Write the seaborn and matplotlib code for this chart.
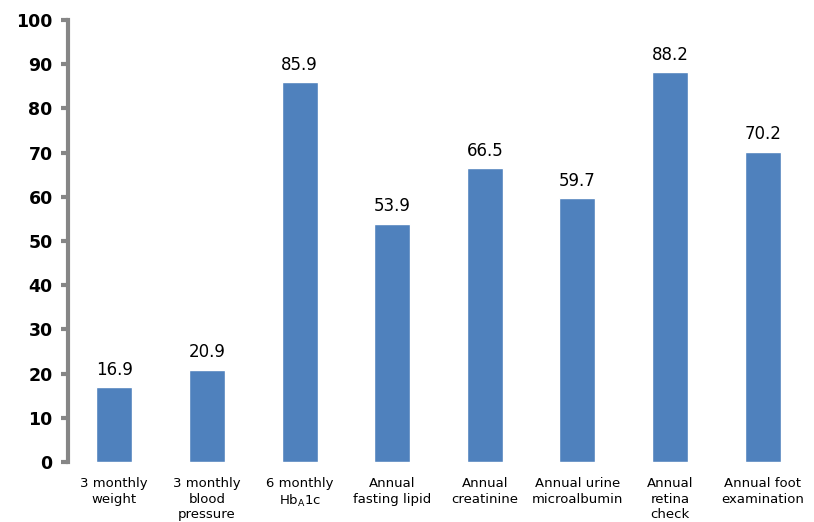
import matplotlib
matplotlib.use("Agg")
import matplotlib.pyplot as plt
import seaborn as sns
import pandas as pd

categories = ["3 monthly\nweight", "3 monthly\nblood\npressure", "6 monthly\nHb$_\\mathregular{A}$1c",
              "Annual\nfasting lipid", "Annual\ncreatinine", "Annual urine\nmicroalbumin",
              "Annual\nretina\ncheck", "Annual foot\nexamination"]
values = [16.9, 20.9, 85.9, 53.9, 66.5, 59.7, 88.2, 70.2]
yticks = [0, 10, 20, 30, 40, 50, 60, 70, 80, 90, 100]

sns.set_style("white")
plt.rcParams['font.family'] = ['DejaVu Sans']
plt.rcParams['text.color'] = 'black'
plt.rcParams['xtick.color'] = 'black'
plt.rcParams['ytick.color'] = 'black'

fig = plt.figure(figsize=(8.14, 5.22), dpi=100)
ax = fig.add_axes([68/814, 1-462/522, (809-68)/814, (462-20)/522])
df = pd.DataFrame({"cat": categories, "val": values})
sns.barplot(data=df, x="cat", y="val", color="#4F81BD", saturation=1, width=0.39, ax=ax)
ax.set_xlim(-0.5, 7.5)
ax.set_ylim(0, 100)
ax.set_yticks(yticks)
ax.set_yticklabels([str(t) for t in yticks], fontsize=12.5, fontweight="bold", color="black")
ax.set_xlabel("")
ax.set_ylabel("")
ax.tick_params(axis="x", length=0, labelsize=9.5, pad=11, labelcolor="black")
ax.tick_params(axis="y", left=True, length=5, width=3, color="#868686", pad=6, direction="out")
for s in ["top", "right", "bottom"]:
    ax.spines[s].set_visible(False)
ax.spines["left"].set_color("#868686")
ax.spines["left"].set_linewidth(3)
for lbl in ax.get_xticklabels():
    lbl.set_linespacing(1.25)
for c in ax.containers:
    ax.bar_label(c, labels=[f"{v:.1f}" for v in values], padding=6, fontsize=12, color="black")
fig.savefig("out.png", dpi=100)
